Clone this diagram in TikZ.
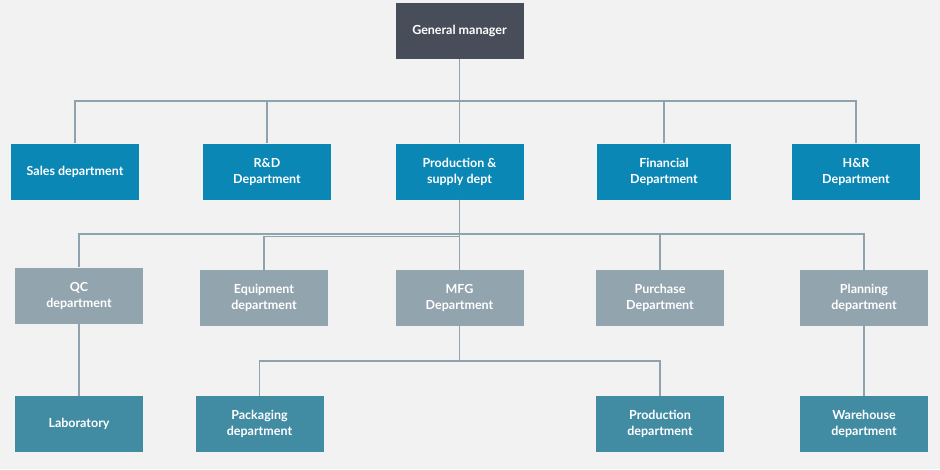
\documentclass[tikz,border=0pt]{standalone}
\usepackage{fontspec}
\setmainfont{Lato}
\usepackage{tikz}
\usetikzlibrary{positioning,calc}
\definecolor{bgcol}{HTML}{F2F2F2}
\definecolor{chiefcol}{HTML}{474E59}
\definecolor{deptcol}{HTML}{0A87B4}
\definecolor{seccol}{HTML}{92A4AD}
\definecolor{unitcol}{HTML}{418BA3}
\definecolor{linkcol}{HTML}{8FA3AE}

\begin{document}
\begin{tikzpicture} [x=1pt, y=-1pt, every node/.style = {shape=rectangle, align=center, text=white, inner sep=0pt, minimum width=128pt, minimum height=56pt, font=\fontsize{12.5}{16}\selectfont\bfseries}, link/.style = {draw=linkcol, line width=1.6pt}]
        \tikzstyle{chiefbox}=[fill=chiefcol]
        \tikzstyle{deptbox}=[fill=deptcol]
        \tikzstyle{secbox}=[fill=seccol]
        \tikzstyle{unitbox}=[fill=unitcol]
        \useasboundingbox[fill=bgcol] (0,0) rectangle (940,469);
        \coordinate (bus1) at (0,101);
        \coordinate (bus2) at (0,234);
        \coordinate (bus2b) at (0,236.5);
        \coordinate (bus3) at (0,361);

        \node[chiefbox] (gm) at (459.5,31) {General manager};

        \node[deptbox] (sales) at (75,171.5) {Sales department};
        \node[deptbox] (rd) at (267,171.5) {R\&D\\Department};
        \node[deptbox] (prod) at (459.5,171.5) {Production \&\\supply dept};
        \node[deptbox, minimum width=134pt] (fin) at (664,171.5) {Financial\\Department};
        \node[deptbox] (hr) at (856,171.5) {H\&R\\Department};

        \node[secbox] (qc) at (79,295.5) {QC\\department};
        \node[secbox] (equip) at (264,298) {Equipment\\department};
        \node[secbox] (mfg) at (459.5,298) {MFG\\Department};
        \node[secbox] (purch) at (660,298) {Purchase\\Department};
        \node[secbox] (plan) at (864,298) {Planning\\department};

        \node[unitbox] (lab) at (79,424) {Laboratory};
        \node[unitbox] (pack) at (259.5,424) {Packaging\\department};
        \node[unitbox] (proddept) at (660,424) {Production\\department};
        \node[unitbox] (ware) at (864,424) {Warehouse\\department};

        \foreach \d in {sales,rd,prod,fin,hr}
            \draw[link] (gm.south) -- (gm.south |- bus1) -| (\d.north);
        \foreach \d in {qc,mfg,purch,plan}
            \draw[link] (prod.south) -- (prod.south |- bus2) -| (\d.north);
        \draw[link] (prod.south) -- (prod.south |- bus2b) -| (equip.north);
        \foreach \d in {pack,proddept}
            \draw[link] (mfg.south) -- (mfg.south |- bus3) -| (\d.north);
        \draw[link] (qc) -- (lab);
        \draw[link] (plan) -- (ware);
    \end{tikzpicture}
\end{document}
